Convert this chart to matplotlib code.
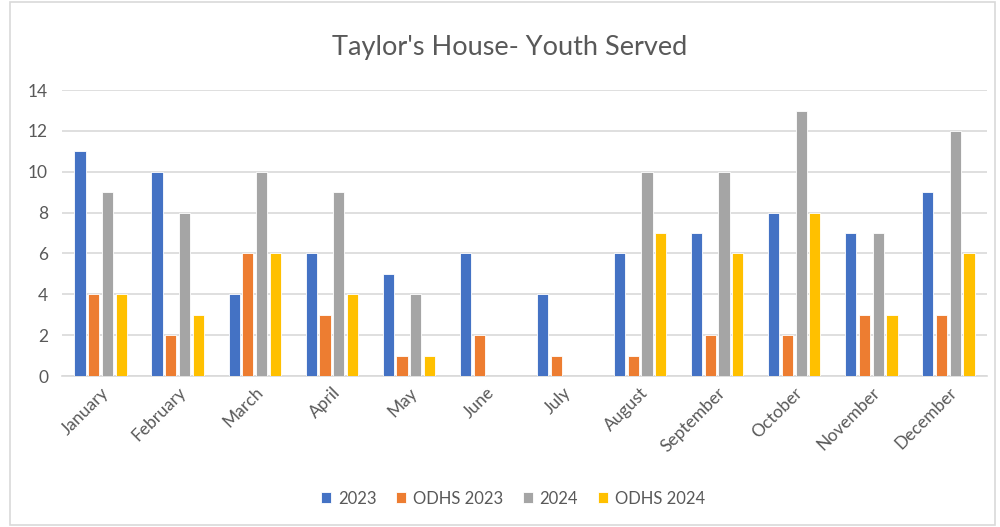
import numpy as np
import matplotlib
matplotlib.use("Agg")
import matplotlib.pyplot as plt
from matplotlib.patches import Rectangle

months = ["January", "February", "March", "April", "May", "June", "July",
          "August", "September", "October", "November", "December"]
series_names = ["2023", "ODHS 2023", "2024", "ODHS 2024"]
youth_2023 = [11, 10, 4, 6, 5, 6, 4, 6, 7, 8, 7, 9]
odhs_2023 = [4, 2, 6, 3, 1, 2, 1, 1, 2, 2, 3, 3]
youth_2024 = [9, 8, 10, 9, 4, np.nan, np.nan, 10, 10, 13, 7, 12]
odhs_2024 = [4, 3, 6, 4, 1, np.nan, np.nan, 7, 6, 8, 3, 6]
y_ticks = [0, 2, 4, 6, 8, 10, 12, 14]

colors = ["#4472C4", "#ED7D31", "#A5A5A5", "#FFC000"]
text_color = "#595959"
grid_color = "#D9D9D9"

plt.rcParams["font.family"] = ["Lato", "DejaVu Sans"]

fig = plt.figure(figsize=(10, 5.27), dpi=100)
fig.patches.append(Rectangle((0.010, 0.004), 0.985, 0.992, transform=fig.transFigure,
                             fill=False, edgecolor=grid_color, linewidth=1.2))
ax = fig.add_axes([0.062, 0.2865, 0.925, 0.5425])

x = np.arange(len(months))
width = 0.145
step = 0.178
all_series = [youth_2023, odhs_2023, youth_2024, odhs_2024]
for i, (name, values) in enumerate(zip(series_names, all_series)):
    offset = (i - 1.5) * step
    ax.bar(x + offset, np.asarray(values, dtype=float), width, color=colors[i],
           edgecolor="white", linewidth=0.6, label=name, zorder=3)

ax.set_xlim(-0.5, len(months) - 0.5)
ax.set_ylim(0, 14)
ax.set_yticks(y_ticks)
ax.yaxis.grid(True, color=grid_color, linewidth=1.2, zorder=0)
ax.set_axisbelow(True)
for side in ["top", "right", "left"]:
    ax.spines[side].set_visible(False)
ax.spines["bottom"].set_color(grid_color)
ax.spines["bottom"].set_linewidth(1.2)
ax.tick_params(axis="both", length=0, colors=text_color, labelsize=12.5)
ax.tick_params(axis="y", pad=10)
ax.set_xticks(x)
ax.set_xticklabels(months, rotation=45, ha="right", rotation_mode="anchor")
ax.tick_params(axis="x", pad=6)

fig.text(0.51, 0.91, "Taylor's House- Youth Served", ha="center", va="center",
         fontsize=19.5, color=text_color)

fig.legend(loc="center", bbox_to_anchor=(0.513, 0.054), ncol=4, frameon=False,
           fontsize=12, labelcolor=text_color, handlelength=0.6, handleheight=0.6,
           handletextpad=0.4, columnspacing=1.2)

fig.savefig("out.png", dpi=100)
